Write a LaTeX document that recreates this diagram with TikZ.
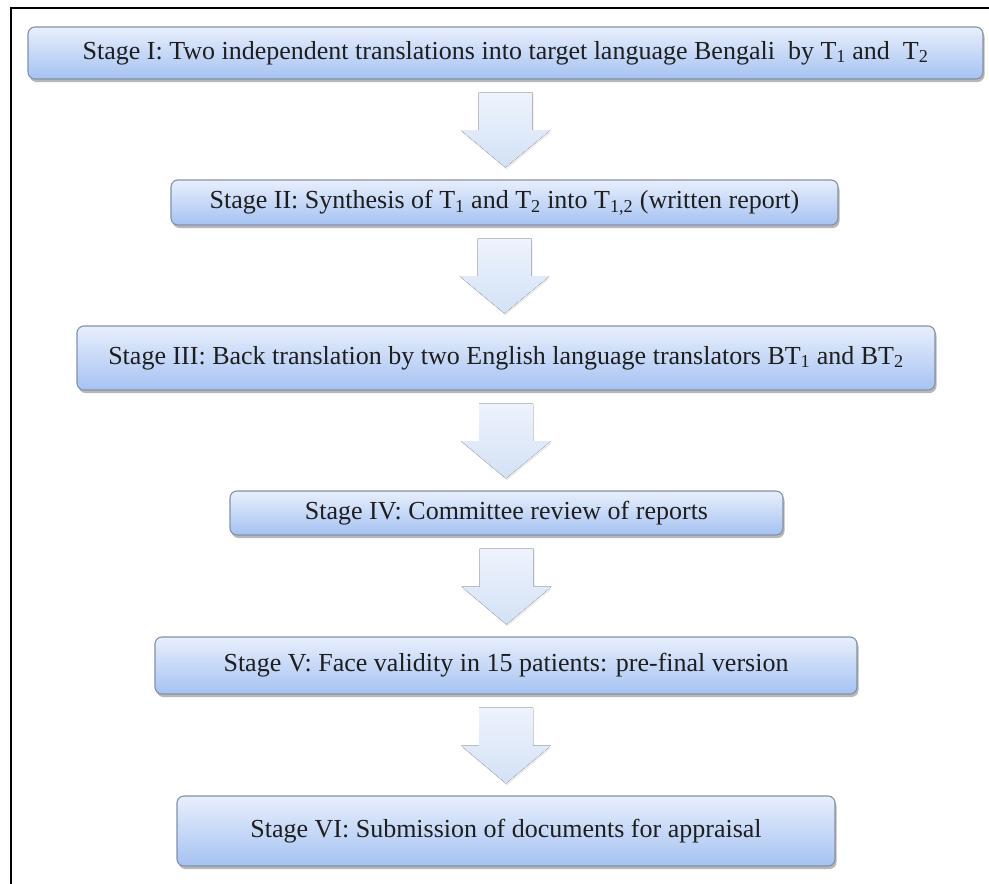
\documentclass[tikz,border=0pt]{standalone}
\usepackage{fontspec}
\setmainfont{Liberation Serif}
\usetikzlibrary{shadows,calc}
\definecolor{boxtop}{HTML}{E8EFFC}
\definecolor{boxbot}{HTML}{A5C2F2}
\definecolor{boxline}{HTML}{8391A6}
\definecolor{arrtop}{HTML}{EEF3FC}
\definecolor{arrbot}{HTML}{D3E1F6}
\definecolor{txt}{HTML}{1E1E1E}
\newcommand\stagearrow[2]{%
  \fill[arrowshape] let \p1=(#1.south), \p2=(#2.north),
    \n1={\y1-13pt}, \n2={\y2+12pt}, \n3={(\n1+\n2)/2} in
    (\x1-27pt,\n1) -- (\x1+27pt,\n1) -- (\x1+27pt,\n3) -- (\x1+45pt,\n3)
    -- (\x1,\n2) -- (\x1-45pt,\n3) -- (\x1-27pt,\n3) -- cycle;}
\begin{document}
\begin{tikzpicture}[x=1pt,y=-1pt,
  stagebox/.style={draw=boxline, line width=1.1pt, rounded corners=7pt,
    top color=boxtop, bottom color=boxbot, text=txt,
    drop shadow={shadow xshift=1.5pt, shadow yshift=-3pt, opacity=0.4, fill=black!70},
    font=\fontsize{26}{31}\selectfont, inner sep=0pt},
  arrowshape/.style={top color=arrtop, bottom color=arrbot,
    drop shadow={shadow xshift=1pt, shadow yshift=-2pt, opacity=0.15, fill=black!50}},
  frameline/.style={line width=2.6pt, black}]
\useasboundingbox (0,0) rectangle (989,884);
\fill[white] (0,0) rectangle (989,884);
\draw[frameline] (11,884) -- (11,8) -- (989,8);

\node[stagebox, minimum width=955pt, minimum height=52pt] (b1) at (505.5,53)
  {Stage I: Two independent translations into target language Bengali\ \ by T\textsubscript{1} and\ \ T\textsubscript{2}};
\node[stagebox, minimum width=667pt, minimum height=45pt] (b2) at (504.5,202.5)
  {Stage II: Synthesis of T\textsubscript{1} and T\textsubscript{2} into T\textsubscript{1,2} (written report)};
\node[stagebox, minimum width=858pt, minimum height=64pt] (b3) at (506,358)
  {Stage III: Back translation by two English language translators BT\textsubscript{1} and BT\textsubscript{2}};
\node[stagebox, minimum width=553pt, minimum height=44pt] (b4) at (506.5,513)
  {Stage IV: Committee review of reports};
\node[stagebox, minimum width=702pt, minimum height=57pt] (b5) at (506,665.5)
  {Stage V: Face validity in 15 patients: pre-final version};
\node[stagebox, minimum width=658pt, minimum height=70pt] (b6) at (506,831)
  {Stage VI: Submission of documents for appraisal};

\stagearrow{b1}{b2}
\stagearrow{b2}{b3}
\stagearrow{b3}{b4}
\stagearrow{b4}{b5}
\stagearrow{b5}{b6}
\end{tikzpicture}
\end{document}
